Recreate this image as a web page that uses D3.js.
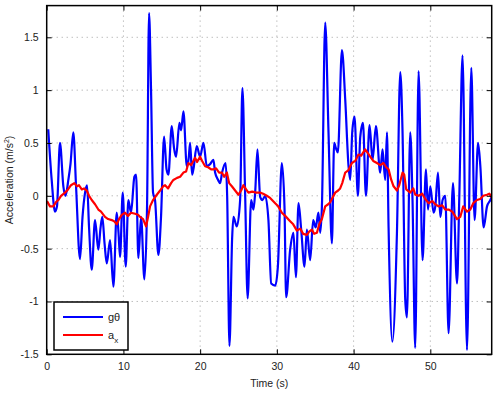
<!DOCTYPE html>
<html>
<head>
<meta charset="utf-8">
<script src="https://cdn.jsdelivr.net/npm/d3@7"></script>
<style>
  body { margin: 0; background: #fff; }
  text { font-family: "Liberation Sans", Arial, sans-serif; }
</style>
</head>
<body>
<div id="chart"></div>
<script>
// g*theta series (blue)
const gTheta = [
  [0.2, 0.63], [0.65, 0.15], [1.08, -0.15], [1.34, -0.1], [1.73, 0.5], [2.17, 0.09], [2.45, 0.0],
  [2.82, 0.15], [3.1, 0.3], [3.47, 0.6], [3.82, 0.1], [4.34, -0.6], [4.67, -0.2], [5.0, 0.03],
  [5.26, 0.1], [5.52, -0.3], [5.87, -0.7], [6.3, -0.23], [6.73, -0.51], [7.02, -0.3], [7.25, -0.2],
  [7.54, -0.45], [7.83, -0.64], [8.26, -0.42], [8.69, -0.86], [9.13, -0.16], [9.36, -0.35],
  [9.56, -0.58], [9.91, 0.03], [10.3, -0.67], [10.64, -0.04], [10.99, -0.16], [11.43, 0.18],
  [11.65, 0.2], [11.95, -0.59], [12.3, -0.2], [12.73, -0.79], [13.08, -0.1], [13.34, 1.73],
  [13.6, 1.0], [13.86, 0.03], [14.12, -0.04], [14.56, -0.56], [14.9, -0.2], [15.3, 0.56],
  [15.62, 0.25], [15.86, 0.2], [16.3, 0.66], [16.6, 0.45], [16.86, 0.37], [17.3, 0.69],
  [17.52, 0.62], [17.82, 0.8], [18.26, 0.28], [18.5, 0.35], [18.69, 0.5], [18.95, 0.2],
  [19.12, 0.25], [19.56, 0.47], [19.99, 0.37], [20.43, 0.5], [20.87, 0.28], [21.3, 0.3],
  [21.73, 0.34], [21.95, 0.22], [22.34, 0.15], [22.6, 0.12], [22.86, 0.22], [23.32, 0.31],
  [23.52, 0.0], [23.82, -1.42], [24.17, -0.4], [24.34, -0.2], [24.78, -0.29], [25.21, -0.04],
  [25.51, 1.02], [25.86, 0.03], [26.19, -0.97], [26.65, -0.04], [26.95, -0.13], [27.17, 0.03],
  [27.47, 0.44], [27.82, -0.01], [28.12, -0.04], [28.47, 0.0], [28.9, -0.23], [29.26, -0.83],
  [29.78, -0.85], [30.13, -0.67], [30.65, 0.31], [30.99, -0.1], [31.21, -0.96], [31.73, -0.51],
  [32.16, -0.35], [32.48, -0.77], [32.82, -0.07], [33.17, -0.32], [33.6, -0.67], [33.91, -0.32],
  [34.34, -0.61], [34.73, -0.23], [35.06, -0.3], [35.42, -0.16], [35.65, -0.35], [35.87, -0.1],
  [36.3, 1.64], [36.73, 0.6], [37.17, -0.45], [37.47, 0.5], [37.7, 0.45], [37.95, 0.41],
  [38.48, 1.38], [38.91, 0.91], [39.34, 0.28], [39.56, 0.15], [39.82, 0.6], [40.12, 0.75],
  [40.56, 0.0], [40.86, 0.55], [41.22, 0.69], [41.61, 0.0], [42.08, 0.67], [42.47, 0.34],
  [42.91, 0.66], [43.47, 0.22], [43.77, 0.44], [44.12, 0.15], [44.35, 0.6], [44.56, -0.3],
  [45.05, -1.38], [45.65, -0.35], [46.08, 1.17], [46.38, 0.6], [46.73, -0.98], [46.95, -1.15],
  [47.38, 0.6], [47.68, -0.04], [48.03, -1.44], [48.47, 1.18], [48.99, -0.61], [49.43, 0.25],
  [49.7, -0.13], [50.0, 0.09], [50.42, -0.16], [50.65, -0.1], [51.0, 0.22], [51.3, -0.2],
  [51.6, -0.04], [51.95, 0.0], [52.38, -1.3], [52.95, 0.12], [53.48, -0.83], [53.78, 0.0],
  [54.2, 1.33], [54.78, -1.46], [55.34, 1.21], [55.77, -0.23], [56.22, 0.5], [56.52, 0.28],
  [56.95, -0.3], [57.39, -0.1], [57.82, -0.04], [58.04, 0.0]
];

// a_x series (red)
const ax = [
  [0.04, -0.05], [0.43, -0.1], [0.86, -0.1], [1.21, -0.06], [1.51, -0.04], [1.87, 0.0],
  [2.39, 0.03], [2.78, 0.06], [3.17, 0.1], [3.6, 0.12], [3.95, 0.09], [4.21, 0.1], [4.57, 0.06],
  [4.87, 0.07], [5.22, 0.05], [5.52, 0.0], [5.87, -0.04], [6.3, -0.08], [6.73, -0.13],
  [7.08, -0.15], [7.6, -0.2], [8.0, -0.22], [8.48, -0.23], [8.78, -0.24], [9.13, -0.27],
  [9.43, -0.22], [9.78, -0.18], [10.21, -0.16], [10.6, -0.19], [10.99, -0.16], [11.52, -0.17],
  [11.91, -0.18], [12.17, -0.2], [12.56, -0.22], [12.95, -0.29], [13.21, -0.2], [13.47, -0.1],
  [13.86, -0.04], [14.35, 0.01], [14.78, 0.05], [15.17, 0.09], [15.43, 0.1], [15.82, 0.07],
  [16.21, 0.12], [16.51, 0.15], [16.99, 0.17], [17.39, 0.18], [17.82, 0.22], [18.17, 0.23],
  [18.47, 0.31], [18.82, 0.29], [19.34, 0.36], [19.6, 0.32], [19.99, 0.37], [20.26, 0.33],
  [20.65, 0.28], [21.04, 0.27], [21.43, 0.25], [21.73, 0.25], [22.08, 0.26], [22.47, 0.22],
  [22.83, 0.22], [23.13, 0.18], [23.48, 0.22], [23.78, 0.12], [24.13, 0.09], [24.56, 0.05],
  [24.99, 0.01], [25.34, 0.05], [25.64, 0.1], [25.99, 0.06], [26.29, 0.03], [26.78, 0.04],
  [27.3, 0.03], [27.82, 0.03], [28.21, 0.02], [28.69, 0.0], [29.12, -0.02], [29.78, -0.07],
  [30.17, -0.1], [30.65, -0.16], [31.08, -0.19], [31.73, -0.24], [32.13, -0.27], [32.61, -0.33],
  [33.04, -0.31], [33.43, -0.36], [33.91, -0.37], [34.21, -0.34], [34.56, -0.32], [34.86, -0.36],
  [35.22, -0.35], [35.52, -0.27], [35.87, -0.22], [36.3, -0.1], [36.69, -0.08], [36.95, -0.06],
  [37.6, 0.03], [37.99, 0.05], [38.25, 0.07], [38.52, 0.12], [38.91, 0.22], [39.3, 0.24],
  [39.78, 0.31], [40.21, 0.33], [40.64, 0.39], [40.99, 0.38], [41.51, 0.44], [41.9, 0.4],
  [42.16, 0.37], [42.56, 0.33], [43.04, 0.31], [43.47, 0.29], [43.9, 0.31], [44.25, 0.27],
  [44.56, 0.25], [44.91, 0.15], [45.21, 0.09], [45.65, 0.05], [45.95, 0.1], [46.38, 0.22],
  [46.6, 0.2], [46.86, 0.06], [47.38, 0.03], [47.78, 0.07], [48.04, 0.01], [48.47, 0.0],
  [48.95, 0.02], [49.34, -0.03], [49.77, -0.07], [50.25, -0.05], [50.64, -0.08], [51.07, -0.1],
  [51.56, -0.09], [51.95, -0.13], [52.38, -0.13], [52.86, -0.15], [53.48, -0.22], [53.9, -0.2],
  [54.29, -0.1], [54.78, -0.15], [55.21, -0.13], [55.6, -0.07], [56.08, -0.04], [56.51, -0.03],
  [56.9, 0.0], [57.39, 0.01], [57.69, 0.02], [58.04, -0.02]
];

const xTicks = [0, 10, 20, 30, 40, 50];
const yTicks = [-1.5, -1, -0.5, 0, 0.5, 1, 1.5];
const legendItems = [
  { name: "gθ", color: "#0000ff", data: gTheta, curve: d3.curveMonotoneX },
  { name: "a", sub: "x", color: "#ff0000", data: ax, curve: d3.curveLinear }
];

const width = 495, height = 396;
const margin = { top: 5.6, right: 3.3, bottom: 41.7, left: 46.7 };
const innerW = width - margin.left - margin.right;
const innerH = height - margin.top - margin.bottom;

const svg = d3.select("#chart").append("svg")
  .attr("width", width)
  .attr("height", height);

const x = d3.scaleLinear().domain([0, 58]).range([0, innerW]);
const y = d3.scaleLinear().domain([-1.5, 1.8]).range([innerH, 0]);

const g = svg.append("g").attr("transform", `translate(${margin.left},${margin.top})`);

g.append("clipPath").attr("id", "clip")
  .append("rect").attr("width", innerW).attr("height", innerH);

// dotted grid
g.selectAll(".gx").data(xTicks.filter(d => d > 0)).join("line")
  .attr("x1", d => x(d)).attr("x2", d => x(d))
  .attr("y1", 0).attr("y2", innerH)
  .attr("stroke", "#888").attr("stroke-width", 0.8)
  .attr("stroke-dasharray", "1,4");
g.selectAll(".gy").data(yTicks.filter(d => d > -1.5)).join("line")
  .attr("x1", 0).attr("x2", innerW)
  .attr("y1", d => y(d)).attr("y2", d => y(d))
  .attr("stroke", "#888").attr("stroke-width", 0.8)
  .attr("stroke-dasharray", "1,4");

// series
const plot = g.append("g").attr("clip-path", "url(#clip)");
legendItems.forEach(s => {
  const line = d3.line().x(d => x(d[0])).y(d => y(d[1])).curve(s.curve);
  plot.append("path")
    .datum(s.data)
    .attr("fill", "none")
    .attr("stroke", s.color)
    .attr("stroke-width", 2.2)
    .attr("stroke-linejoin", "round")
    .attr("d", line);
});

// axes, matlab style: ticks inside on all four sides
const fmt = d => d3.format("")(d).replace("−", "-");
const bottomAxis = d3.axisBottom(x).tickValues(xTicks).tickSize(-5).tickPadding(8).tickFormat(fmt);
const leftAxis = d3.axisLeft(y).tickValues(yTicks).tickSize(-5).tickPadding(8).tickFormat(fmt);

g.append("g").attr("transform", `translate(0,${innerH})`).call(bottomAxis);
g.append("g").call(leftAxis);
g.append("g").call(d3.axisTop(x).tickValues(xTicks).tickSize(-5).tickFormat(""));
g.append("g").attr("transform", `translate(${innerW},0)`)
  .call(d3.axisRight(y).tickValues(yTicks).tickSize(-5).tickFormat(""));

g.selectAll(".domain").remove();
g.selectAll(".tick line").attr("stroke", "#000").attr("stroke-width", 1);
g.selectAll(".tick text").attr("font-size", 10.5).attr("fill", "#222");

g.append("rect")
  .attr("width", innerW).attr("height", innerH)
  .attr("fill", "none").attr("stroke", "#000").attr("stroke-width", 1.5);

// axis labels
svg.append("text")
  .attr("x", margin.left + innerW / 2).attr("y", 387)
  .attr("text-anchor", "middle").attr("font-size", 10.5).attr("fill", "#222")
  .text("Time (s)");

const yl = svg.append("text")
  .attr("transform", `translate(13,${margin.top + innerH / 2}) rotate(-90)`)
  .attr("text-anchor", "middle").attr("font-size", 10.5).attr("fill", "#222");
yl.append("tspan").text("Acceleration (m/s");
yl.append("tspan").attr("font-size", 7).attr("dy", -4).text("2");
yl.append("tspan").attr("dy", 4).text(")");

// legend
const legend = svg.append("g").attr("transform", "translate(54,302)");
legend.append("rect")
  .attr("width", 74).attr("height", 48)
  .attr("fill", "#fff").attr("stroke", "#000").attr("stroke-width", 1.5);
legendItems.forEach((s, i) => {
  const row = legend.append("g").attr("transform", `translate(0,${15 + i * 18})`);
  row.append("line")
    .attr("x1", 9).attr("x2", 49)
    .attr("stroke", s.color).attr("stroke-width", 2.2);
  const t = row.append("text")
    .attr("x", 54).attr("y", 4)
    .attr("font-size", 11).attr("fill", "#222");
  t.append("tspan").text(s.name);
  if (s.sub) t.append("tspan").attr("font-size", 8).attr("dy", 4).text(s.sub);
});
</script>
</body>
</html>
